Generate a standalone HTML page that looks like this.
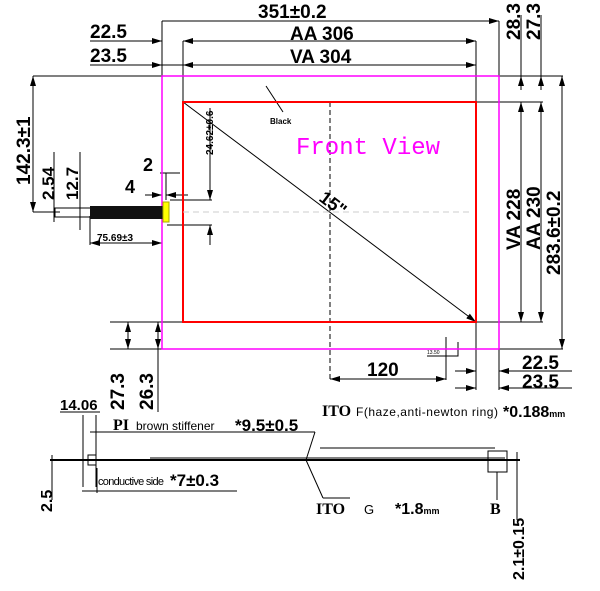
<!DOCTYPE html>
<html><head><meta charset="utf-8"><style>
html,body{margin:0;padding:0;background:#fff}
svg{display:block}
text{font-family:"Liberation Sans",sans-serif;font-weight:bold;fill:#000}
text.n{font-weight:normal}
</style></head><body>
<svg width="600" height="591" viewBox="0 0 600 591" xmlns="http://www.w3.org/2000/svg">
<defs>
<marker id="a" viewBox="0 0 10 6" refX="10" refY="3" markerWidth="10" markerHeight="6" orient="auto-start-reverse" markerUnits="userSpaceOnUse"><path d="M0,0L10,3L0,6z" fill="#000"/></marker>
</defs>
<g stroke="#000" stroke-width="1" fill="none">
<line x1="162" y1="21" x2="499" y2="21" marker-end="url(#a)"/>
<line x1="162" y1="21" x2="162" y2="125"/>
<line x1="499" y1="21" x2="499" y2="125"/>
<line x1="90" y1="41" x2="162" y2="41" marker-end="url(#a)"/>
<line x1="183" y1="41" x2="476" y2="41" marker-end="url(#a)"/>
<line x1="200" y1="41" x2="183" y2="41" marker-end="url(#a)"/>
<line x1="90" y1="65" x2="162" y2="65" marker-end="url(#a)"/>
<line x1="162" y1="65" x2="476" y2="65" marker-end="url(#a)"/>
<line x1="200" y1="65" x2="183" y2="65" marker-end="url(#a)"/>
<line x1="183" y1="41" x2="183" y2="117"/>
<line x1="476" y1="41" x2="476" y2="390"/>
<line x1="499" y1="125" x2="499" y2="390"/>
<line x1="476" y1="76" x2="563" y2="76"/>
<line x1="476" y1="102" x2="543" y2="102"/>
<line x1="476" y1="322" x2="543" y2="322"/>
<line x1="476" y1="349" x2="563" y2="349"/>
<line x1="521" y1="15" x2="521" y2="76" />
<line x1="521" y1="90" x2="521" y2="76" marker-end="url(#a)"/>
<line x1="521" y1="102" x2="521" y2="322" marker-start="url(#a)" marker-end="url(#a)"/>
<line x1="541" y1="15" x2="541" y2="76"/>
<line x1="541" y1="90" x2="541" y2="76" marker-end="url(#a)"/>
<line x1="541" y1="102" x2="541" y2="322" marker-start="url(#a)" marker-end="url(#a)"/>
<line x1="562" y1="76" x2="562" y2="349" marker-start="url(#a)" marker-end="url(#a)"/>
<line x1="455" y1="371" x2="476" y2="371" marker-end="url(#a)"/>
<line x1="572" y1="371" x2="499" y2="371" marker-end="url(#a)"/>
<line x1="455" y1="388" x2="476" y2="388" marker-end="url(#a)"/>
<line x1="572" y1="388" x2="499" y2="388" marker-end="url(#a)"/>
<line x1="330" y1="379" x2="446" y2="379" marker-start="url(#a)" marker-end="url(#a)"/>
<line x1="446" y1="337" x2="446" y2="380"/>
<polyline points="427,356 458,356 458,342"/>
<line x1="330" y1="102" x2="330" y2="380" stroke-dasharray="5,3"/>
<line x1="183" y1="102" x2="476" y2="322" marker-end="url(#a)"/>
<line x1="266" y1="86" x2="283" y2="112"/>
<line x1="170" y1="200" x2="212" y2="200"/>
<line x1="167" y1="225" x2="212" y2="225"/>
<line x1="210" y1="108" x2="210" y2="200" marker-end="url(#a)"/>
<line x1="210" y1="245" x2="210" y2="225" marker-end="url(#a)"/>
<line x1="160" y1="173" x2="180" y2="173"/>
<line x1="166" y1="173" x2="166" y2="200"/>
<line x1="145" y1="195" x2="162" y2="195" marker-end="url(#a)"/>
<line x1="188" y1="195" x2="166" y2="195" marker-end="url(#a)"/>
<line x1="33" y1="76" x2="162" y2="76"/>
<line x1="33" y1="212" x2="60" y2="212"/>
<line x1="33" y1="76" x2="33" y2="212" marker-start="url(#a)" marker-end="url(#a)"/>
<line x1="54" y1="152" x2="54" y2="222"/>
<line x1="80" y1="152" x2="80" y2="230"/>
<line x1="90" y1="216" x2="90" y2="245"/>
<line x1="90" y1="243" x2="162" y2="243" marker-start="url(#a)" marker-end="url(#a)"/>
<line x1="110" y1="322" x2="183" y2="322"/>
<line x1="110" y1="349" x2="183" y2="349"/>
<line x1="128" y1="322" x2="128" y2="349" marker-start="url(#a)" marker-end="url(#a)"/>
<line x1="158" y1="322" x2="158" y2="349" marker-start="url(#a)" marker-end="url(#a)"/>
<line x1="158" y1="349" x2="158" y2="412"/>
<line x1="60" y1="412" x2="100" y2="412"/>
<line x1="83" y1="415" x2="83" y2="487"/>
<line x1="96" y1="415" x2="96" y2="487"/>
<rect x="88" y="455" width="8" height="10"/>
<line x1="90" y1="432" x2="315" y2="432"/>
<line x1="315" y1="432" x2="306" y2="460"/>
<line x1="306" y1="460" x2="323" y2="498"/>
<line x1="323" y1="498" x2="350" y2="498"/>
<line x1="320" y1="448" x2="495" y2="448"/>
<line x1="82" y1="491" x2="237" y2="491"/>
<line x1="97" y1="468" x2="97" y2="493"/>
<line x1="52" y1="455" x2="52" y2="500"/>
<rect x="488" y="451" width="19" height="21"/>
<line x1="497" y1="472" x2="497" y2="500"/>
<line x1="517" y1="452" x2="517" y2="520"/>
</g>
<line x1="50" y1="460" x2="520" y2="460" stroke="#000" stroke-width="2"/>
<line x1="150" y1="458" x2="505" y2="458" stroke="#000" stroke-width="1"/>
<g fill="none">
<rect x="162" y="76" width="337" height="273" stroke="#f0f" stroke-width="1.5"/>
<rect x="183" y="102" width="293" height="220" stroke="#f00" stroke-width="2"/>
</g>
<line x1="183" y1="212" x2="470" y2="212" stroke="#ccc" stroke-dasharray="6,4"/>
<rect x="55" y="208" width="40" height="9" fill="none" stroke="#000"/>
<rect x="90" y="206" width="74" height="13" fill="#111"/>
<rect x="163" y="202" width="6" height="20" fill="#ff0" stroke="#aa0"/>
<text x="258" y="18" font-size="19">351±0.2</text>
<text x="290" y="40" font-size="19">AA 306</text>
<text x="290" y="63" font-size="19">VA 304</text>
<text x="90" y="38" font-size="19">22.5</text>
<text x="90" y="62" font-size="19">23.5</text>
<text x="296" y="154" font-size="24" class="n" style="font-family:'Liberation Mono',monospace;fill:#f0f">Front View</text>
<text x="270" y="124" font-size="8">Black</text>
<text transform="translate(318,200) rotate(37)" font-size="18">15"</text>
<text transform="translate(520,40) rotate(-90)" font-size="19">28.3</text>
<text transform="translate(540,40) rotate(-90)" font-size="19">27.3</text>
<text transform="translate(520,250) rotate(-90)" font-size="19">VA 228</text>
<text transform="translate(540,250) rotate(-90)" font-size="19">AA 230</text>
<text transform="translate(560,275) rotate(-90)" font-size="19">283.6±0.2</text>
<text x="522" y="369" font-size="19">22.5</text>
<text x="522" y="388" font-size="19">23.5</text>
<text x="367" y="376" font-size="19">120</text>
<text x="427" y="354" font-size="5" class="n">13.50</text>
<text transform="translate(213,155) rotate(-90)" font-size="10">24.62±0.6</text>
<text x="143" y="171" font-size="18">2</text>
<text x="125" y="193" font-size="18">4</text>
<text transform="translate(30,185) rotate(-90)" font-size="19">142.3±1</text>
<text transform="translate(54,200) rotate(-90)" font-size="17">2.54</text>
<text transform="translate(78,200) rotate(-90)" font-size="17">12.7</text>
<text x="97" y="241" font-size="10">75.69±3</text>
<text transform="translate(124,410) rotate(-90)" font-size="19">27.3</text>
<text transform="translate(153,410) rotate(-90)" font-size="19">26.3</text>
<text x="60" y="410" font-size="15">14.06</text>
<text x="113" y="430" font-size="16" style="font-family:'Liberation Serif',serif">PI</text>
<text x="136" y="430" font-size="12" class="n">brown stiffener</text>
<text x="235" y="431" font-size="17">*9.5±0.5</text>
<text x="322" y="416" font-size="16" style="font-family:'Liberation Serif',serif">ITO</text>
<text x="356" y="416" font-size="12" class="n" textLength="142">F(haze,anti-newton ring)</text>
<text x="503" y="417" font-size="16">*0.188<tspan font-size="9">mm</tspan></text>
<text x="98" y="485" font-size="11" class="n" textLength="66">conductive side</text>
<text x="170" y="486" font-size="17">*7±0.3</text>
<text x="316" y="514" font-size="16" style="font-family:'Liberation Serif',serif">ITO</text>
<text x="364" y="514" font-size="13" class="n">G</text>
<text x="395" y="514" font-size="16">*1.8<tspan font-size="9">mm</tspan></text>
<text x="490" y="514" font-size="16" style="font-family:'Liberation Serif',serif">B</text>
<text transform="translate(52,512) rotate(-90)" font-size="16">2.5</text>
<text transform="translate(524,580) rotate(-90)" font-size="16">2.1±0.15</text>
</svg>
</body></html>
